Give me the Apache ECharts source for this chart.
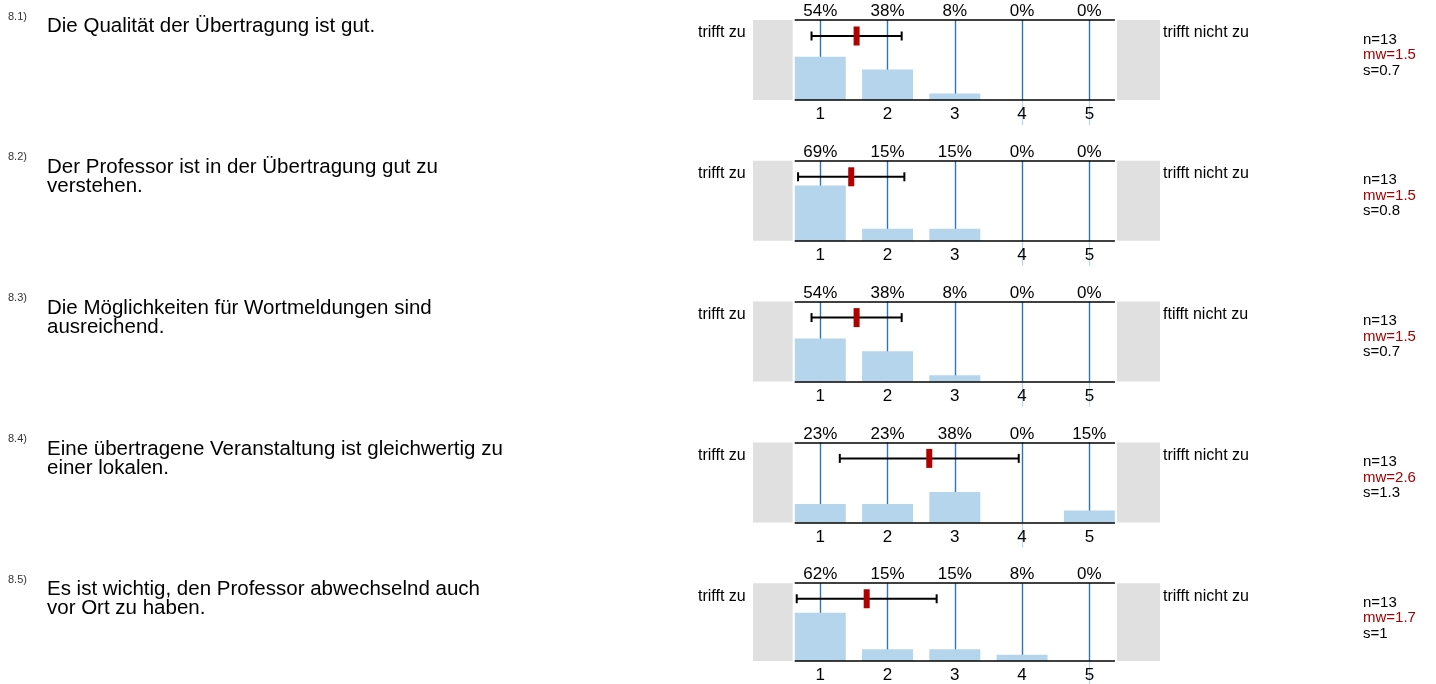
<!DOCTYPE html>
<html>
<head>
<meta charset="utf-8">
<title>Übertragung – Bewertung</title>
<script src="https://cdn.jsdelivr.net/npm/echarts@6.0.0/dist/echarts.min.js"></script>
<style>
  html, body { margin: 0; padding: 0; background: #fff; }
  #chart { width: 1436px; height: 684px; }
</style>
</head>
<body>
<div id="chart"></div>
<script>
// answer scale 1..5
const scale = [1, 2, 3, 4, 5]

const itemNumbers = ['8.1)', '8.2)', '8.3)', '8.4)', '8.5)']
const questions = [
  'Die Qualität der Übertragung ist gut.',
  'Der Professor ist in der Übertragung gut zu\nverstehen.',
  'Die Möglichkeiten für Wortmeldungen sind\nausreichend.',
  'Eine übertragene Veranstaltung ist gleichwertig zu\neiner lokalen.',
  'Es ist wichtig, den Professor abwechselnd auch\nvor Ort zu haben.'
]
const leftPoles = ['trifft zu', 'trifft zu', 'trifft zu', 'trifft zu', 'trifft zu']
const rightPoles = ['trifft nicht zu', 'trifft nicht zu', 'ftifft nicht zu', 'trifft nicht zu', 'trifft nicht zu']

// share of answers (%) per item
const pct81 = [54, 38, 8, 0, 0]
const pct82 = [69, 15, 15, 0, 0]
const pct83 = [54, 38, 8, 0, 0]
const pct84 = [23, 23, 38, 0, 15]
const pct85 = [62, 15, 15, 8, 0]
const percents = [pct81, pct82, pct83, pct84, pct85]

// mean and standard deviation as drawn
const means = [1.54, 1.46, 1.54, 2.62, 1.69]
const stdDevs = [0.67, 0.79, 0.67, 1.33, 1.04]

// printed statistics
const nValues = ['13', '13', '13', '13', '13']
const mwLabels = ['1.5', '1.5', '1.5', '2.6', '1.7']
const sLabels = ['0.7', '0.8', '0.7', '1.3', '1']

const FONT = '"Liberation Sans", Arial, Helvetica, sans-serif'
const ROW_TOP = 20
const ROW_STEP = 140.8
const PLOT_H = 80
const GRID_LEFT = 753
const GRID_W = 407
const X_MIN = 0
const X_MAX = 6.05
const PLOT_FROM = 0.62
const PLOT_TO = 5.38
const ERR_Y = 80
const BLUE = '#2e75b6'

const grid = []
const xAxis = []
const yAxis = []
const series = []
const graphic = []

percents.forEach((row, i) => {
  const top = ROW_TOP + i * ROW_STEP
  grid.push({ left: GRID_LEFT, top: top, width: GRID_W, height: PLOT_H })

  // bottom: answer numbers (light tick where nobody answered)
  xAxis.push({
    type: 'value', gridIndex: i, min: X_MIN, max: X_MAX, position: 'bottom',
    axisLine: { show: false },
    splitLine: { show: false },
    axisTick: {
      show: true,
      customValues: scale.filter((v, j) => row[j] === 0),
      length: 25,
      lineStyle: { color: '#b7d5ee', width: 1.2 }
    },
    axisLabel: {
      customValues: scale, margin: 6, fontSize: 17, color: '#000', fontFamily: FONT,
      formatter: (v) => String(v)
    }
  })
  // top: percentages, blue guide line per answer
  xAxis.push({
    type: 'value', gridIndex: i, min: X_MIN, max: X_MAX, position: 'top',
    axisLine: { show: false },
    axisTick: { show: false, customValues: scale },
    splitLine: { show: true, lineStyle: { color: BLUE, width: 1.4 } },
    axisLabel: {
      customValues: scale, margin: 0, fontSize: 17, color: '#000', fontFamily: FONT,
      formatter: (v) => row[v - 1] + '%'
    }
  })
  yAxis.push({ type: 'value', gridIndex: i, min: 0, max: 100, show: false })

  const black = { color: '#000', width: 1.6, type: 'solid' }
  series.push({
    type: 'bar',
    xAxisIndex: 2 * i,
    yAxisIndex: i,
    barWidth: 51,
    silent: true,
    itemStyle: { color: '#b5d5ec' },
    data: scale.map((v, j) => [v, row[j]]),
    markArea: {
      silent: true,
      itemStyle: { color: '#e0e0e0' },
      data: [
        [{ coord: [X_MIN, 0] }, { coord: [0.59, 100] }],
        [{ coord: [5.41, 0] }, { coord: [X_MAX, 100] }]
      ]
    },
    markLine: {
      silent: true,
      symbol: ['none', 'none'],
      label: { show: false },
      lineStyle: black,
      emphasis: { disabled: true },
      data: [
        [{ coord: [PLOT_FROM, 100] }, { coord: [PLOT_TO, 100] }],
        [{ coord: [PLOT_FROM, 0] }, { coord: [PLOT_TO, 0] }]
      ]
    }
  })

  // mean with +/- one standard deviation
  series.push({
    type: 'custom',
    xAxisIndex: 2 * i,
    yAxisIndex: i,
    z: 8,
    silent: true,
    dimensions: ['mean', 'sd'],
    encode: { x: 'mean' },
    data: [[means[i], stdDevs[i]]],
    renderItem: (params, api) => {
      const m = api.value(0)
      const s = api.value(1)
      const a = api.coord([m - s, ERR_Y])
      const b = api.coord([m + s, ERR_Y])
      const c = api.coord([m, ERR_Y])
      const st = { stroke: '#000', lineWidth: 2 }
      return {
        type: 'group',
        children: [
          { type: 'line', shape: { x1: a[0], y1: a[1], x2: b[0], y2: b[1] }, style: st },
          { type: 'line', shape: { x1: a[0], y1: a[1] - 4.5, x2: a[0], y2: a[1] + 4.5 }, style: st },
          { type: 'line', shape: { x1: b[0], y1: b[1] - 4.5, x2: b[0], y2: b[1] + 4.5 }, style: st },
          { type: 'rect', shape: { x: c[0] - 3, y: c[1] - 9.5, width: 6, height: 19 }, style: { fill: '#b00000' } }
        ]
      }
    }
  })

  graphic.push(
    { type: 'text', left: 8, top: top - 9, style: { text: itemNumbers[i], font: '11px ' + FONT, fill: '#333' } },
    { type: 'text', left: 47, top: top - 4, style: { text: questions[i], font: '20.5px ' + FONT, lineHeight: 19, fill: '#000' } },
    { type: 'text', left: 698, top: top + 5, style: { text: leftPoles[i], font: '16px ' + FONT, fill: '#000' } },
    { type: 'text', left: 1163, top: top + 5, style: { text: rightPoles[i], font: '16px ' + FONT, fill: '#000' } },
    {
      type: 'text', left: 1363, top: top + 12,
      style: {
        text: '{a|n=' + nValues[i] + '}\n{r|mw=' + mwLabels[i] + '}\n{a|s=' + sLabels[i] + '}',
        rich: {
          a: { fontFamily: FONT, fontSize: 15, lineHeight: 15.5, fill: '#000' },
          r: { fontFamily: FONT, fontSize: 15, lineHeight: 15.5, fill: '#a50000' }
        }
      }
    }
  )
})

const chart = echarts.init(document.getElementById('chart'))
chart.setOption({
  animation: false,
  backgroundColor: '#fff',
  grid, xAxis, yAxis, series, graphic
})
</script>
</body>
</html>
